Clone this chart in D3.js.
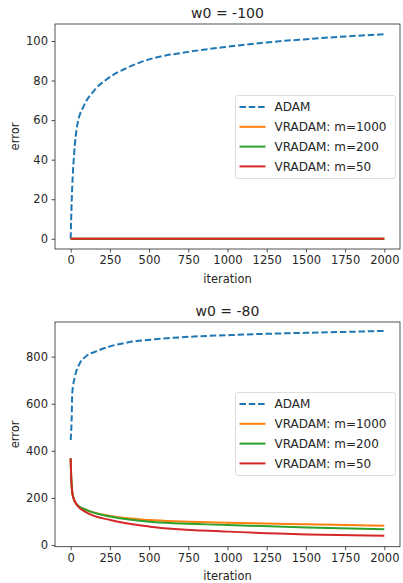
<!DOCTYPE html>
<html>
<head>
<meta charset="utf-8">
<script src="https://cdn.jsdelivr.net/npm/d3@7"></script>
<style>
  body { margin: 0; background: #fff; }
  text { font-family: "DejaVu Sans", sans-serif; fill: #262626; }
</style>
</head>
<body>
<div id="container"></div>
<script>
const width = 403;
const height = 583;

// shared
const xTicks = [0, 250, 500, 750, 1000, 1250, 1500, 1750, 2000];
const seriesNames = ["ADAM", "VRADAM: m=1000", "VRADAM: m=200", "VRADAM: m=50"];
const colors = ["#1f77b4", "#ff7f0e", "#2ca02c", "#d62728"];

// panel 1: w0 = -100
const top_adamIter = [0, 6, 13, 21, 42, 84, 148, 232, 337, 443, 500, 750, 1000, 1250, 1500, 1750, 2000];
const top_adamErr  = [0, 18, 31.5, 42, 57.5, 67.2, 74.8, 80.8, 85.6, 89.2, 90.7, 94.5, 97.1, 99.3, 100.9, 102.3, 103.4];
const top_vrIter = [0, 500, 1000, 1500, 2000];
const top_m1000 = [0, 0, 0, 0, 0];
const top_m200  = [0, 0, 0, 0, 0];
const top_m50   = [0, 0, 0, 0, 0];
const top_yTicks = [0, 20, 40, 60, 80, 100];

// panel 2: w0 = -80
const bot_adamIter = [0, 6, 10, 27, 53, 95, 158, 243, 369, 538, 750, 1000, 1250, 1500, 1750, 2000];
const bot_adamErr  = [446, 531, 644, 715, 765, 800, 821, 842, 861, 874, 884, 891, 897, 901, 905, 909];
const bot_vrIter = [0, 4, 15, 42, 95, 253, 506, 1002, 1508, 2000];
const bot_m1000 = [368, 276, 205, 170, 150, 123, 106, 95, 88, 82];
const bot_m200  = [368, 276, 205, 170, 150, 121, 99, 85, 75, 67];
const bot_m50   = [368, 276, 205, 168, 141, 106, 78, 57, 45, 39];
const bot_yTicks = [0, 200, 400, 600, 800];

const svg = d3.create("svg")
    .attr("width", width)
    .attr("height", height);

function panel(cfg) {
    const { title, left, right, topY, bottomY, yDomain, yTicks, adamIter, adamErr, vrIter, vr, legendY } = cfg;

    const x = d3.scaleLinear().domain([-100, 2100]).range([left, right]);
    const y = d3.scaleLinear().domain(yDomain).range([bottomY, topY]);

    const g = svg.append("g");

    // x axis
    const xa = g.append("g")
        .attr("transform", `translate(0,${bottomY})`)
        .call(d3.axisBottom(x).tickValues(xTicks).tickFormat(d3.format("d")).tickSizeOuter(0).tickSize(3.5).tickPadding(3.5));
    // y axis
    const ya = g.append("g")
        .attr("transform", `translate(${left},0)`)
        .call(d3.axisLeft(y).tickValues(yTicks).tickFormat(d3.format("d")).tickSizeOuter(0).tickSize(3.5).tickPadding(3.5));
    [xa, ya].forEach(a => {
        a.select(".domain").remove();
        a.selectAll("line").attr("stroke", "#262626").attr("stroke-width", 0.8);
        a.selectAll("text").attr("font-size", 11.5).attr("fill", "#262626")
            .style("font-family", "DejaVu Sans, sans-serif");
    });

    const line = d3.line().x(d => x(d[0])).y(d => y(d[1])).curve(d3.curveMonotoneX);

    g.append("path")
        .datum(adamIter.map((d, i) => [d, adamErr[i]]))
        .attr("fill", "none")
        .attr("stroke", colors[0])
        .attr("stroke-width", 2)
        .attr("stroke-dasharray", "6.5,2.8")
        .attr("d", line);

    vr.forEach((vals, k) => {
        g.append("path")
            .datum(vrIter.map((d, i) => [d, vals[i]]))
            .attr("fill", "none")
            .attr("stroke", colors[k + 1])
            .attr("stroke-width", 2)
            .attr("d", line);
    });

    // frame
    g.append("rect")
        .attr("x", left).attr("y", topY)
        .attr("width", right - left).attr("height", bottomY - topY)
        .attr("fill", "none").attr("stroke", "#262626").attr("stroke-width", 0.8);

    // title + labels
    g.append("text")
        .attr("x", (left + right) / 2).attr("y", topY - 6)
        .attr("text-anchor", "middle").attr("font-size", 14)
        .text(title);
    g.append("text")
        .attr("x", (left + right) / 2).attr("y", bottomY + 33.5)
        .attr("text-anchor", "middle").attr("font-size", 11.5)
        .text("iteration");
    g.append("text")
        .attr("transform", `translate(19,${(topY + bottomY) / 2}) rotate(-90)`)
        .attr("text-anchor", "middle").attr("font-size", 11.5)
        .text("error");

    // legend
    const lg = g.append("g").attr("transform", `translate(235.5,${legendY})`);
    lg.append("rect")
        .attr("width", 160).attr("height", 83).attr("rx", 2.5)
        .attr("fill", "#fff").attr("fill-opacity", 0.8)
        .attr("stroke", "#d6d6d6").attr("stroke-width", 0.8);
    seriesNames.forEach((name, i) => {
        const ly = 11.5 + i * 19.8;
        lg.append("line")
            .attr("x1", 4).attr("x2", 30).attr("y1", ly).attr("y2", ly)
            .attr("stroke", colors[i]).attr("stroke-width", 2)
            .attr("stroke-dasharray", i === 0 ? "6.5,2.8" : null);
        lg.append("text")
            .attr("x", 39).attr("y", ly).attr("dy", "0.36em")
            .attr("font-size", 12)
            .text(name);
    });
}

panel({
    title: "w0 = -100", left: 55, right: 400, topY: 24, bottomY: 249,
    yDomain: [-5.17, 108.6], yTicks: top_yTicks,
    adamIter: top_adamIter, adamErr: top_adamErr,
    vrIter: top_vrIter, vr: [top_m1000, top_m200, top_m50],
    legendY: 95.5
});

panel({
    title: "w0 = -80", left: 55, right: 400, topY: 322, bottomY: 546.7,
    yDomain: [-7, 947], yTicks: bot_yTicks,
    adamIter: bot_adamIter, adamErr: bot_adamErr,
    vrIter: bot_vrIter, vr: [bot_m1000, bot_m200, bot_m50],
    legendY: 392.5
});

document.getElementById("container").append(svg.node());
</script>
</body>
</html>
